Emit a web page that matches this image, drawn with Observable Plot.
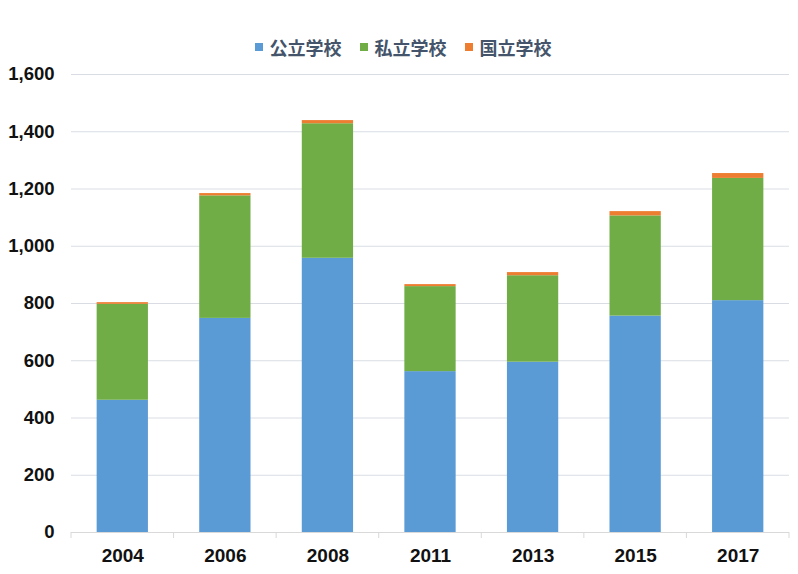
<!DOCTYPE html>
<html>
<head>
<meta charset="utf-8">
<script src="https://cdn.jsdelivr.net/npm/d3@7"></script>
<script src="https://cdn.jsdelivr.net/npm/@observablehq/plot@0.6"></script>
<style>
  html, body { margin: 0; padding: 0; background: #fff; }
  #wrap { width: 798px; height: 574px; position: relative; }
  #legend { height: 60px; box-sizing: border-box; padding-top: 33px; display: flex; justify-content: center; align-items: center; font-family: "Noto Sans CJK JP", "Liberation Sans", sans-serif; font-weight: bold; font-size: 18px; color: #44546A; line-height: 24px; padding-left: 8px; }
  .item { display: flex; align-items: center; margin: 0 9px; }
  .sw { width: 8px; height: 8px; margin-right: 7px; }
</style>
</head>
<body>
<div id="wrap">
  <div id="legend"></div>
  <div id="chart"></div>
</div>
<script>
const years = ["2004", "2006", "2008", "2011", "2013", "2015", "2017"];
const seriesNames = ["公立学校", "私立学校", "国立学校"];
const seriesColors = ["#5B9BD5", "#70AD47", "#ED7D31"];
const publicSchools = [462, 748, 958, 562, 595, 756, 810];
const privateSchools = [335, 428, 470, 297, 302, 350, 427];
const nationalSchools = [6, 8, 11, 7, 11, 15, 17];
const yTicks = [0, 200, 400, 600, 800, 1000, 1200, 1400, 1600];

const seriesValues = [publicSchools, privateSchools, nationalSchools];
const table = [];
years.forEach((y, i) => {
  seriesNames.forEach((s, j) => {
    table.push({year: y, type: s, value: seriesValues[j][i]});
  });
});

// legend
const legend = document.getElementById("legend");
seriesNames.forEach((s, j) => {
  const it = document.createElement("div");
  it.className = "item";
  const sw = document.createElement("div");
  sw.className = "sw";
  sw.style.background = seriesColors[j];
  const tx = document.createElement("span");
  tx.textContent = s;
  it.appendChild(sw); it.appendChild(tx);
  legend.appendChild(it);
});

const W = 798, H = 514, mL = 71, mR = 9, mT = 14, mB = 42;

const chart = Plot.plot({
  width: W,
  height: H,
  marginLeft: mL,
  marginRight: mR,
  marginTop: mT,
  marginBottom: mB,
  style: {fontFamily: "'Liberation Sans', Arial, sans-serif", fontSize: "18px", fontWeight: "bold", color: "#111", background: "#fff"},
  x: {domain: years, paddingInner: 0.5, paddingOuter: 0.25, round: false, label: null},
  y: {domain: [0, 1600], label: null},
  color: {domain: seriesNames, range: seriesColors},
  marks: [
    Plot.gridY(yTicks, {stroke: "#d9dde3", strokeOpacity: 1, strokeWidth: 1}),
    Plot.barY(table, Plot.stackY({x: "year", y: "value", fill: "type", order: null})),
    Plot.ruleY([0], {stroke: "#d9d9d9", strokeWidth: 1}),
    Plot.axisY({ticks: yTicks, tickSize: 0, tickPadding: 17, tickFormat: d3.format(","), fontSize: 18.5, fontWeight: "bold", fill: "#111"}),
    Plot.axisX({tickSize: 0, tickPadding: 16, fontSize: 19, fontWeight: "bold", fill: "#111"})
  ]
});
document.getElementById("chart").appendChild(chart);

// band separator ticks below axis (positions from the plot's scales)
const xs = chart.scale("x");
const ys = chart.scale("y");
const svg = d3.select(chart);
const y0 = ys.apply(0);
const bounds = years.map(y => xs.apply(y) - xs.step * xs.paddingInner / 2)
  .concat([xs.apply(years[years.length - 1]) + xs.bandwidth + xs.step * xs.paddingInner / 2]);
svg.append("g").selectAll("line").data(bounds).join("line")
  .attr("x1", d => d).attr("x2", d => d)
  .attr("y1", y0).attr("y2", y0 + 6)
  .attr("stroke", "#d9d9d9");
</script>
</body>
</html>
